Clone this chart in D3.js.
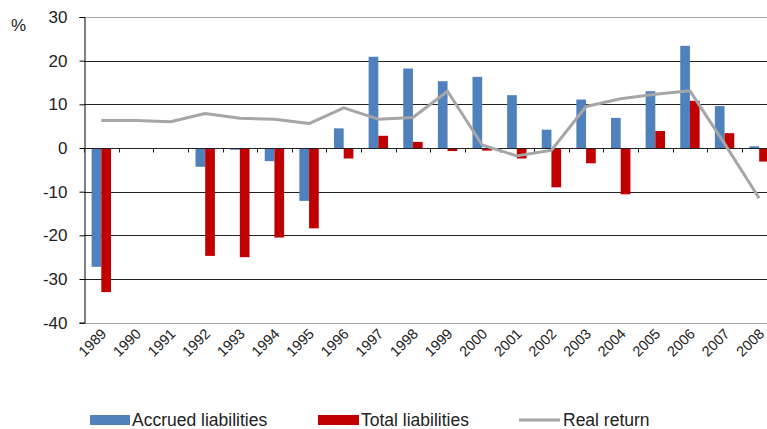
<!DOCTYPE html>
<html>
<head>
<meta charset="utf-8">
<script src="https://cdn.jsdelivr.net/npm/d3@7"></script>
<style>
  body { margin: 0; background: #fff; }
  svg { display: block; font-family: "Liberation Sans", Arial, sans-serif; }
</style>
</head>
<body>
<svg id="chart" width="767" height="429"></svg>
<script>
const years = ["1989","1990","1991","1992","1993","1994","1995","1996","1997","1998",
               "1999","2000","2001","2002","2003","2004","2005","2006","2007","2008"];
const accrued = [-27.2, null, null, -4.3, -0.4, -3.0, -12.1, 4.5, 20.9, 18.2,
                 15.3, 16.3, 12.1, 4.2, 11.1, 6.9, 13.0, 23.4, 9.6, 0.4];
const total = [-33.0, null, null, -24.7, -25.0, -20.5, -18.4, -2.4, 2.8, 1.4,
               -0.7, -0.6, -2.4, -9.0, -3.5, -10.6, 3.9, 10.8, 3.4, -3.1];
const realReturn = [6.3, 6.3, 6.0, 7.9, 6.8, 6.6, 5.6, 9.2, 6.6, 7.0,
                    13.0, 0.7, -1.8, -0.5, 9.5, 11.3, 12.3, 13.1, 1.0, -11.5];
const yTicks = [30, 20, 10, 0, -10, -20, -30, -40];

const svg = d3.select("#chart");
const mLeft = 84, mRight = 776.5, mTop = 17, mBottom = 322.7;

const x = d3.scaleBand().domain(years).range([mLeft, mRight]);
const y = d3.scaleLinear().domain([-40, 30]).range([mBottom, mTop]);
const bw = x.bandwidth() * 0.28;

// gridlines
svg.append("g").selectAll("line")
  .data(yTicks)
  .join("line")
  .attr("x1", mLeft).attr("x2", 767)
  .attr("y1", d => Math.round(y(d)) + 0.5).attr("y2", d => Math.round(y(d)) + 0.5)
  .attr("stroke", d => (d === 30 || d === -40) ? "#a6a6a6" : "#222")
  .attr("stroke-width", 1);

// y axis
const yAxis = svg.append("g")
  .attr("transform", `translate(${mLeft + 0.5},0)`)
  .call(d3.axisLeft(y).tickValues(yTicks).tickSize(5).tickPadding(12).tickFormat(d => String(d)));
yAxis.select(".domain").attr("stroke", "#000");
yAxis.selectAll(".tick line").attr("stroke", "#000");
yAxis.selectAll("text").attr("font-size", 17).attr("fill", "#222")
  .attr("font-family", "Liberation Sans, Arial, sans-serif");

svg.append("text").attr("x", 11).attr("y", 31).text("%")
  .attr("font-size", 17).attr("fill", "#222");

// bars
const rows = years.map((yr, i) => ({ yr, a: accrued[i], t: total[i] }));
const cx = d => x(d.yr) + x.bandwidth() / 2;

svg.append("g").selectAll("rect")
  .data(rows.filter(d => d.a !== null))
  .join("rect")
  .attr("x", d => cx(d) - bw)
  .attr("width", bw)
  .attr("y", d => y(Math.max(0, d.a)))
  .attr("height", d => Math.abs(y(d.a) - y(0)))
  .attr("fill", "#4f81bd");

svg.append("g").selectAll("rect")
  .data(rows.filter(d => d.t !== null))
  .join("rect")
  .attr("x", d => cx(d))
  .attr("width", bw)
  .attr("y", d => y(Math.max(0, d.t)))
  .attr("height", d => Math.abs(y(d.t) - y(0)))
  .attr("fill", "#c00000");

// zero axis with category ticks
const y0 = Math.round(y(0)) + 0.5;
svg.append("line").attr("x1", mLeft).attr("x2", 767).attr("y1", y0).attr("y2", y0)
  .attr("stroke", "#222");
svg.append("g").selectAll("line")
  .data(years)
  .join("line")
  .attr("x1", d => Math.round(x(d)) + 0.5).attr("x2", d => Math.round(x(d)) + 0.5)
  .attr("y1", y0).attr("y2", y0 + 4)
  .attr("stroke", "#222");

// real return line
const line = d3.line()
  .x((d, i) => x(years[i]) + x.bandwidth() / 2)
  .y(d => y(d));
svg.append("path")
  .datum(realReturn)
  .attr("d", line)
  .attr("fill", "none")
  .attr("stroke", "#a6a6a6")
  .attr("stroke-width", 3)
  .attr("stroke-linejoin", "round");

// x labels
svg.append("g").selectAll("text")
  .data(years)
  .join("text")
  .attr("transform", d => `translate(${x(d) + x.bandwidth() / 2 + 6},${mBottom + 12}) rotate(-45)`)
  .attr("text-anchor", "end")
  .attr("font-size", 14.5)
  .attr("fill", "#222")
  .text(d => d);

// legend
const lg = svg.append("g");
lg.append("rect").attr("x", 90).attr("y", 415).attr("width", 40).attr("height", 10).attr("fill", "#4f81bd");
lg.append("text").attr("x", 132).attr("y", 426).text("Accrued liabilities").attr("font-size", 17.5).attr("fill", "#222");
lg.append("rect").attr("x", 318).attr("y", 415).attr("width", 41).attr("height", 10).attr("fill", "#c00000");
lg.append("text").attr("x", 361).attr("y", 426).text("Total liabilities").attr("font-size", 17.5).attr("fill", "#222");
lg.append("line").attr("x1", 519).attr("x2", 560).attr("y1", 420).attr("y2", 420)
  .attr("stroke", "#a6a6a6").attr("stroke-width", 3);
lg.append("text").attr("x", 563).attr("y", 426).text("Real return").attr("font-size", 17.5).attr("fill", "#222");
</script>
</body>
</html>
